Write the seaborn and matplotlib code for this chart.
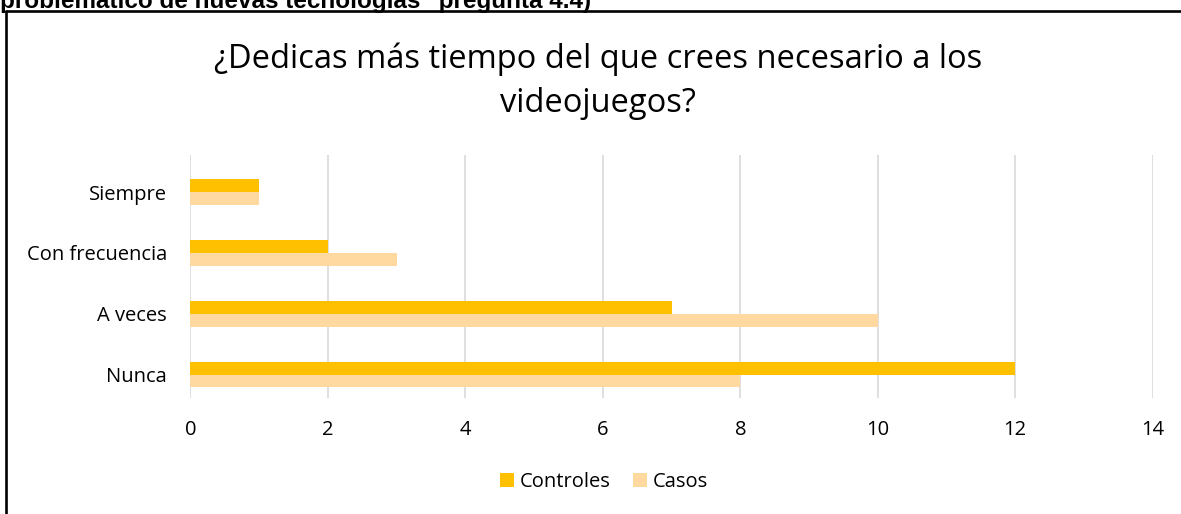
import seaborn as sns
from matplotlib import pyplot as plt
from matplotlib.lines import Line2D
import pandas as pd

categories = ['Siempre', 'Con frecuencia', 'A veces', 'Nunca']
controles = [1, 2, 7, 12]
casos = [1, 3, 10, 8]
series_names = ['Controles', 'Casos']
x_ticks = [0, 2, 4, 6, 8, 10, 12, 14]

df = pd.DataFrame({
    'categoria': categories * 2,
    'valor': controles + casos,
    'grupo': [series_names[0]] * 4 + [series_names[1]] * 4,
})

sns.set_style('white')
plt.rcParams['font.family'] = ['Open Sans', 'DejaVu Sans']
plt.rcParams['text.color'] = 'black'
plt.rcParams['xtick.color'] = 'black'
plt.rcParams['ytick.color'] = 'black'

fig = plt.figure(figsize=(11.81, 5.14), dpi=100)
ax = fig.add_axes([190.4 / 1181, 1 - 398 / 514, (1152.7 - 190.4) / 1181, (398 - 155) / 514])

sns.barplot(data=df, y='categoria', x='valor', hue='grupo', order=categories,
            hue_order=series_names, palette=['#FFC000', '#FFD9A0'],
            orient='h', width=0.42, ax=ax, legend=True, saturation=1, linewidth=0)

ax.set_xlim(0, 14)
ax.set_ylim(3.383, -0.608)
ax.set_xticks(x_ticks)
ax.set_xticklabels([str(t) for t in x_ticks], fontsize=14.5)
ax.tick_params(axis='y', labelsize=14.5, length=0, pad=17)
ax.tick_params(axis='x', length=0, pad=16)
ax.set_xlabel('')
ax.set_ylabel('')
for s in ax.spines.values():
    s.set_visible(False)
ax.grid(axis='x', color='#D9D9D9', linewidth=1.2)
ax.set_axisbelow(True)

# legend below the plot
ax.legend(loc='center', bbox_to_anchor=(604 / 1181, 1 - 482 / 514),
          bbox_transform=fig.transFigure, ncol=2, frameon=False, fontsize=14.5,
          handlelength=0.7, handleheight=0.7, handletextpad=0.3, columnspacing=1.1)

fig.text(598 / 1181, 1 - 59 / 514, '¿Dedicas más tiempo del que crees necesario a los',
         ha='center', va='center', fontsize=23.5)
fig.text(598 / 1181, 1 - 103 / 514, 'videojuegos?', ha='center', va='center', fontsize=23.5)

# cut-off heading of the document above the chart
fig.text(0, 1 - 8 / 514, 'problemático de nuevas tecnologías" pregunta 4.4)',
         ha='left', va='baseline', fontsize=17.5, fontweight='bold',
         family=['Liberation Sans', 'DejaVu Sans'])

# chart border
fig.add_artist(Line2D([5.5 / 1181, 5.5 / 1181], [0, 1 - 11 / 514], color='black', linewidth=1.9))
fig.add_artist(Line2D([5.5 / 1181, 1], [1 - 11 / 514, 1 - 11 / 514], color='black', linewidth=1.9))

fig.savefig('out.png', dpi=100)
